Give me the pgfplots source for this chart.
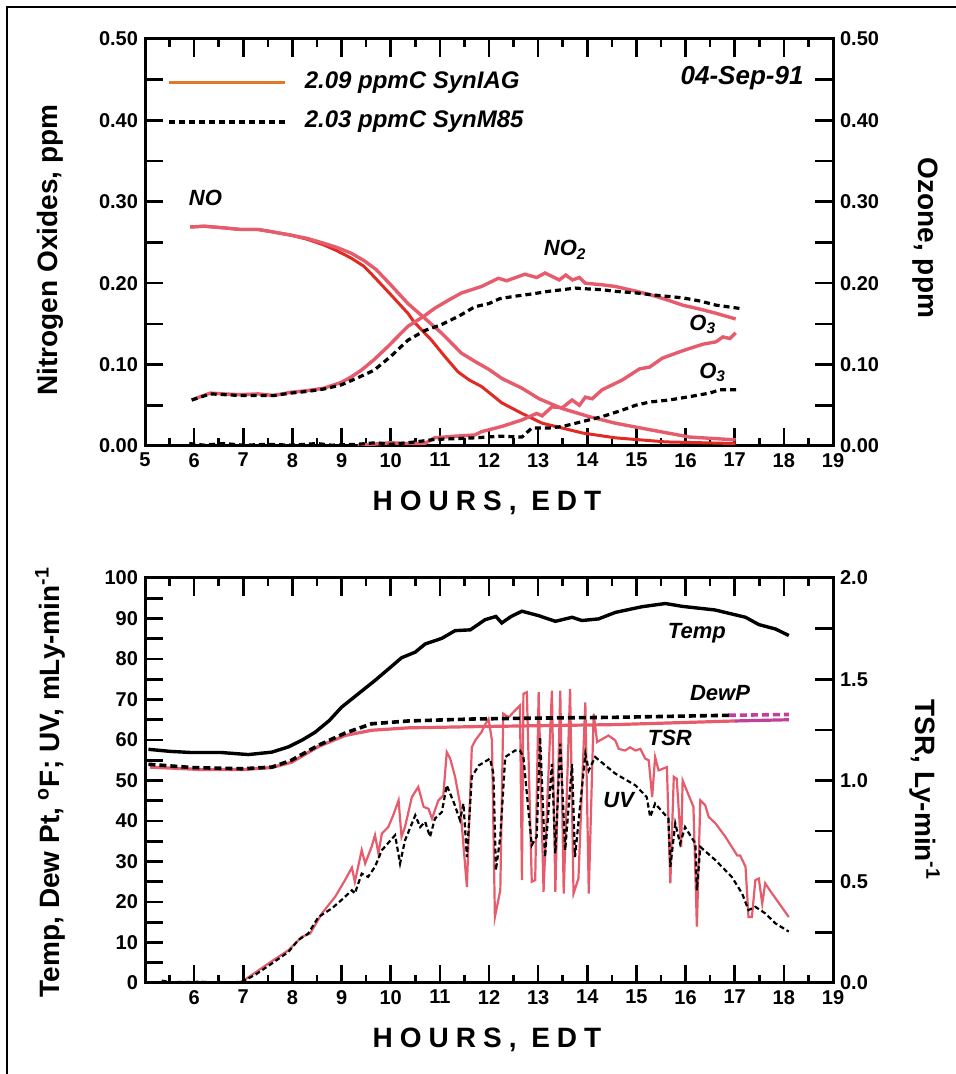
\documentclass[border=0pt]{standalone}
\usepackage{fontspec}
\setmainfont{Liberation Sans}
\usepackage{pgfplots}
\pgfplotsset{compat=1.18}

\definecolor{pinkc}{HTML}{E65C6C}
\definecolor{redc}{HTML}{E02A22}
\definecolor{orangec}{HTML}{E07828}
\definecolor{magc}{HTML}{C0409E}

\tikzset{blkdash/.style={black, line width=1.6pt, dash pattern=on 3pt off 2pt}}
\pgfplotsset{
  panel/.style={scale only axis, width=344pt, xmin=5, xmax=19,
    axis line style={line width=1.5pt},
    tick style={black, line width=1.3pt},
    major tick length=9pt, minor tick length=4pt,
    xtick={5,...,19}, minor xtick={5.5,6.5,...,18.5},
    ticklabel style={font=\fontsize{10}{12}\selectfont\bfseries},
    /pgf/number format/assume math mode=true,
    tick align=inside},
}
\newcommand{\lab}{\fontsize{14}{16}\selectfont\bfseries}
\newcommand{\crv}{\fontsize{11}{13}\selectfont\bfseries\itshape}

\begin{document}
\begin{tikzpicture}
\useasboundingbox (0,0) rectangle (478pt,537pt);
\draw[line width=0.75pt] (3.5pt,0) -- (3.5pt,533.5pt) -- (478pt,533.5pt);

% ---------- top panel: nitrogen oxides and ozone
\begin{axis}[panel, at={(72.5pt,314pt)}, anchor=south west, height=203.5pt,
  ymin=0, ymax=0.5, ytick pos=left,
  ytick={0,0.05,0.1,0.15,0.2,0.25,0.3,0.35,0.4,0.45,0.5},
  yticklabels={0.00,,0.10,,0.20,,0.30,,0.40,,0.50}]
% NO, darker red
\addplot[redc, line width=1.5pt] coordinates {(5.92,0.269) (6.2,0.270) (6.6,0.268) (6.94,0.266) (7.3,0.266) (7.6,0.263) (7.97,0.259) (8.3,0.254) (8.64,0.247) (8.9,0.240) (9.19,0.231) (9.45,0.221) (9.66,0.208) (10.0,0.186) (10.35,0.163) (10.48,0.152) (10.83,0.130) (11.1,0.110) (11.37,0.091) (11.6,0.081) (11.85,0.073) (12.26,0.053) (12.67,0.040) (13.08,0.028) (13.49,0.022) (13.9,0.016) (14.57,0.010) (15.6,0.005) (17.02,0.003)};
% NO, pink
\addplot[pinkc, line width=1.7pt] coordinates {(5.92,0.269) (6.2,0.270) (6.6,0.268) (6.94,0.266) (7.3,0.266) (7.6,0.263) (7.97,0.259) (8.3,0.255) (8.64,0.249) (8.9,0.244) (9.19,0.237) (9.45,0.228) (9.7,0.217) (10.0,0.198) (10.35,0.175) (10.69,0.157) (11.03,0.139) (11.44,0.114) (11.71,0.104) (12.0,0.094) (12.26,0.083) (12.67,0.071) (13.02,0.058) (13.49,0.046) (14.04,0.036) (14.57,0.028) (15.27,0.020) (16.08,0.011) (17.02,0.0075)};
% NO2, pink
\addplot[pinkc, line width=1.7pt] coordinates {(5.95,0.0565) (6.1,0.060) (6.33,0.065) (6.6,0.064) (6.94,0.063) (7.3,0.064) (7.62,0.062) (7.97,0.066) (8.3,0.068) (8.64,0.071) (8.99,0.078) (9.2,0.085) (9.4,0.093) (9.66,0.106) (9.94,0.122) (10.35,0.147) (10.69,0.160) (10.89,0.169) (11.2,0.180) (11.44,0.188) (11.85,0.196) (12.19,0.206) (12.36,0.203) (12.73,0.211) (12.97,0.207) (13.14,0.2125) (13.43,0.204) (13.56,0.210) (13.7,0.204) (13.84,0.207) (13.96,0.200) (14.3,0.198) (14.57,0.196) (15.0,0.190) (15.27,0.186) (15.6,0.180) (15.94,0.173) (16.3,0.168) (16.62,0.163) (17.02,0.156)};
% O3, pink
\addplot[pinkc, line width=1.7pt] coordinates {(9.33,0.000) (9.6,0.002) (10.0,0.004) (10.3,0.003) (10.69,0.003) (10.89,0.010) (11.3,0.012) (11.71,0.0135) (11.85,0.0176) (12.26,0.024) (12.67,0.032) (12.97,0.040) (13.08,0.037) (13.28,0.048) (13.49,0.047) (13.69,0.0565) (13.84,0.050) (13.96,0.060) (14.1,0.058) (14.3,0.069) (14.71,0.081) (15.06,0.0946) (15.27,0.097) (15.53,0.108) (15.94,0.117) (16.35,0.125) (16.62,0.128) (16.76,0.134) (16.9,0.132) (17.02,0.139)};
% NO2, dashed
\addplot[blkdash] coordinates {(5.95,0.0565) (6.33,0.064) (6.94,0.062) (7.62,0.062) (7.97,0.065) (8.3,0.067) (8.64,0.070) (8.99,0.075) (9.3,0.083) (9.66,0.093) (10.0,0.110) (10.35,0.130) (10.7,0.142) (11.03,0.149) (11.4,0.160) (11.71,0.171) (12.0,0.175) (12.22,0.181) (12.53,0.184) (12.9,0.187) (13.21,0.190) (13.5,0.192) (13.75,0.194) (14.0,0.193) (14.3,0.192) (14.57,0.190) (15.0,0.188) (15.27,0.186) (15.6,0.184) (15.94,0.182) (16.3,0.178) (16.62,0.173) (17.1,0.169)};
% O3, dashed
\addplot[blkdash] coordinates {(5.9,0.003) (6.2,0.001) (6.6,0.003) (7.0,0.001) (7.5,0.002) (8.0,0.001) (8.5,0.003) (8.8,0.001) (9.3,0.002) (9.7,0.004) (10.0,0.002) (10.5,0.005) (10.89,0.008) (11.3,0.009) (11.71,0.010) (12.22,0.012) (12.67,0.011) (12.87,0.022) (13.21,0.022) (13.5,0.024) (13.9,0.030) (14.3,0.036) (14.71,0.044) (14.98,0.050) (15.27,0.054) (15.67,0.0565) (16.08,0.0606) (16.49,0.065) (16.7,0.069) (17.1,0.069)};
\node[font=\crv] at (axis cs:6.23,0.305) {NO};
\node[font=\crv] at (axis cs:13.55,0.241) {NO\textsubscript{2}};
\node[font=\crv] at (axis cs:16.35,0.149) {O\textsubscript{3}};
\node[font=\crv] at (axis cs:16.55,0.090) {O\textsubscript{3}};
\node[font=\fontsize{13}{15}\selectfont\bfseries\itshape] at (axis cs:17.15,0.452) {04-Sep-91};
\draw[orangec, line width=1.5pt] (rel axis cs:0.035,0.894) -- (rel axis cs:0.203,0.894);
\draw[blkdash] (rel axis cs:0.035,0.796) -- (rel axis cs:0.203,0.796);
\node[font=\fontsize{12}{14}\selectfont\bfseries\itshape, anchor=west] at (rel axis cs:0.222,0.894) {2.09 ppmC SynIAG};
\node[font=\fontsize{12}{14}\selectfont\bfseries\itshape, anchor=west] at (rel axis cs:0.222,0.796) {2.03 ppmC SynM85};
\end{axis}
\begin{axis}[panel, at={(72.5pt,314pt)}, anchor=south west, height=203.5pt,
  axis x line=none, axis y line*=right, ymin=0, ymax=0.5,
  ytick={0,0.05,0.1,0.15,0.2,0.25,0.3,0.35,0.4,0.45,0.5},
  yticklabels={0.00,,0.10,,0.20,,0.30,,0.40,,0.50}, tick align=inside]
\end{axis}

% ---------- bottom panel: TSR on the right scale
\begin{axis}[panel, at={(72.5pt,45.5pt)}, anchor=south west, height=202.5pt,
  axis x line=none, axis y line*=right, ymin=0, ymax=2,
  ytick={0,0.25,0.5,0.75,1,1.25,1.5,1.75,2},
  yticklabels={0.0,,0.5,,1.0,,1.5,,2.0}, tick align=inside]
\addplot[pinkc, line width=1.1pt] coordinates {(6.56,0.000) (6.97,0.006) (7.51,0.096) (7.92,0.162) (8.19,0.228) (8.36,0.244) (8.6,0.344) (8.87,0.426) (9.07,0.508) (9.21,0.570) (9.27,0.500) (9.41,0.656) (9.48,0.590) (9.61,0.672) (9.68,0.730) (9.75,0.640) (9.82,0.738) (9.95,0.770) (10.05,0.828) (10.16,0.902) (10.22,0.722) (10.29,0.770) (10.43,0.918) (10.56,0.968) (10.67,0.870) (10.77,0.860) (10.84,0.812) (10.97,0.902) (11.07,0.926) (11.14,1.140) (11.21,1.108) (11.31,1.018) (11.41,0.886) (11.55,0.474) (11.65,1.164) (11.72,1.198) (11.85,1.240) (11.92,1.276) (11.99,1.304) (12.06,1.198) (12.12,0.326) (12.23,0.458) (12.29,1.330) (12.4,1.312) (12.53,1.346) (12.63,1.370) (12.67,0.508) (12.7,1.428) (12.77,1.436) (12.87,0.500) (12.94,0.508) (13.01,1.436) (13.11,0.450) (13.28,1.444) (13.35,0.450) (13.45,1.444) (13.52,0.442) (13.65,1.452) (13.72,0.442) (13.82,0.516) (13.96,1.386) (14.03,0.442) (14.13,1.330) (14.2,1.190) (14.43,1.222) (14.57,1.198) (14.64,1.156) (14.77,1.148) (14.87,1.164) (14.98,1.148) (15.08,1.156) (15.18,1.108) (15.25,1.100) (15.32,0.918) (15.38,1.116) (15.45,1.050) (15.62,1.066) (15.69,0.492) (15.76,1.018) (15.82,1.008) (15.91,0.672) (15.94,1.000) (16.16,0.870) (16.23,0.278) (16.3,0.902) (16.4,0.878) (16.47,0.820) (16.61,0.788) (16.81,0.722) (17.05,0.630) (17.11,0.630) (17.22,0.574) (17.28,0.326) (17.35,0.326) (17.42,0.508) (17.49,0.516) (17.56,0.392) (17.62,0.492) (17.76,0.442) (18.1,0.326)};
\end{axis}

% ---------- bottom panel: temperature, dew point, UV
\begin{axis}[panel, at={(72.5pt,45.5pt)}, anchor=south west, height=202.5pt,
  ymin=0, ymax=100, ytick pos=left,
  ytick={0,5,...,100},
  yticklabels={0,,10,,20,,30,,40,,50,,60,,70,,80,,90,,100},
  xticklabels={,6,7,8,9,10,11,12,13,14,15,16,17,18,19}]
\addplot[pinkc, line width=1.6pt] coordinates {(5.1,53.3) (6.15,52.7) (7.0,52.7) (7.58,53.2) (7.98,54.5) (8.53,58.4) (9.07,61.1) (9.61,62.4) (10.36,63.0) (11.72,63.3) (14.57,63.8) (17.01,64.7)};
\addplot[magc, line width=1.6pt] coordinates {(17.01,64.7) (18.1,65.0)};
\addplot[black, line width=1.8pt, dash pattern=on 3.5pt off 2pt] coordinates {(5.07,54.0) (5.95,53.2) (6.97,52.9) (7.58,53.3) (7.98,55.0) (8.53,58.7) (9.07,61.7) (9.61,64.0) (10.36,64.7) (11.72,65.2) (13.0,65.4) (14.57,65.6) (16.88,66.1)};
\addplot[magc, line width=1.8pt, dash pattern=on 3.5pt off 2pt] coordinates {(16.88,66.1) (18.1,66.3)};
\addplot[black, line width=1.1pt, dash pattern=on 2.5pt off 1.5pt] coordinates {(5.34,0.6) (5.5,0.2) (6.15,0.3) (6.56,0.0) (6.97,0.3) (7.24,2.0) (7.64,5.3) (7.92,7.7) (8.12,10.6) (8.32,12.2) (8.53,16.3) (8.8,18.4) (9.0,20.5) (9.21,22.9) (9.27,22.1) (9.41,27.0) (9.54,26.2) (9.68,28.7) (9.82,32.8) (10.09,36.5) (10.19,29.5) (10.29,35.2) (10.5,41.4) (10.6,38.5) (10.7,39.8) (10.8,36.1) (10.9,40.6) (11.04,42.2) (11.14,48.8) (11.28,44.7) (11.41,40.2) (11.48,44.3) (11.55,31.1) (11.65,50.9) (11.79,53.7) (12.02,55.4) (12.09,51.7) (12.14,27.8) (12.23,36.1) (12.33,55.8) (12.53,57.4) (12.63,57.4) (12.7,55.8) (12.87,34.0) (12.97,36.1) (13.04,60.7) (13.14,31.1) (13.28,54.1) (13.35,32.0) (13.45,59.1) (13.55,32.8) (13.69,54.1) (13.75,31.1) (13.96,56.6) (14.03,52.5) (14.16,55.8) (14.57,51.7) (14.98,48.8) (15.21,45.9) (15.28,41.0) (15.38,44.3) (15.65,40.6) (15.69,28.7) (15.79,39.4) (15.89,34.4) (15.99,38.5) (16.2,34.4) (16.23,22.9) (16.3,33.6) (16.61,30.3) (16.94,26.2) (17.15,22.1) (17.28,18.0) (17.42,18.8) (17.62,17.2) (17.83,14.7) (18.1,12.7)};
\addplot[black, line width=1.7pt] coordinates {(5.07,57.7) (5.5,57.2) (5.95,56.9) (6.56,56.9) (7.1,56.4) (7.58,57.0) (7.92,58.3) (8.2,60.0) (8.46,61.9) (8.75,64.8) (9.0,68.1) (9.35,71.5) (9.68,74.7) (10.0,78.0) (10.22,80.3) (10.5,81.7) (10.7,83.7) (11.04,85.1) (11.31,87.0) (11.62,87.2) (11.92,89.7) (12.14,90.5) (12.26,88.9) (12.45,90.5) (12.67,91.8) (13.01,90.7) (13.35,89.3) (13.69,90.3) (13.89,89.5) (14.23,89.9) (14.57,91.5) (15.11,92.9) (15.59,93.7) (15.93,93.0) (16.6,92.1) (17.22,90.3) (17.49,88.5) (17.83,87.4) (18.1,85.8)};
\node[font=\crv] at (axis cs:16.23,86.3) {Temp};
\node[font=\crv] at (axis cs:16.7,71.7) {DewP};
\node[font=\crv] at (axis cs:15.68,60.6) {TSR};
\node[font=\crv] at (axis cs:14.64,45.1) {UV};
\end{axis}

% ---------- axis titles
\node[font=\lab, rotate=90] at (25pt,412pt) {Nitrogen Oxides, ppm};
\node[font=\lab, rotate=-90] at (462.5pt,418pt) {Ozone, ppm};
\node[font=\lab\addfontfeature{LetterSpace=25}] at (243.5pt,285.5pt) {HOURS, EDT};
\node[font=\lab, rotate=90] at (25pt,146pt) {Temp, Dew Pt, \textsuperscript{o}F; UV, mLy-min\textsuperscript{-1}};
\node[font=\lab, rotate=-90] at (462.5pt,142pt) {TSR, Ly-min\textsuperscript{-1}};
\node[font=\lab\addfontfeature{LetterSpace=25}] at (243.5pt,17pt) {HOURS, EDT};
\end{tikzpicture}
\end{document}
